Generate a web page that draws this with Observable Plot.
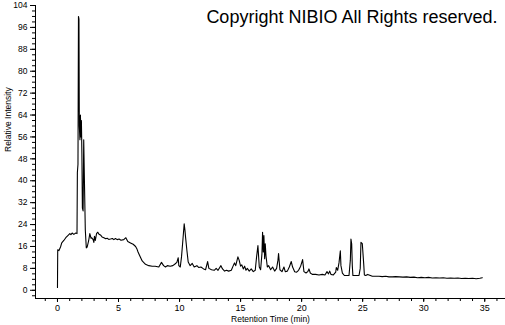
<!DOCTYPE html>
<html>
<head>
<meta charset="utf-8">
<script src="https://cdn.jsdelivr.net/npm/d3@7"></script>
<script src="https://cdn.jsdelivr.net/npm/@observablehq/plot@0.6"></script>
<style>
  html, body { margin: 0; padding: 0; background: #fff; }
  #chart { width: 505px; height: 325px; }
</style>
</head>
<body>
<div id="chart"></div>
<script>
const times = [0,0.02,0.12,0.25,0.35,0.52,0.68,0.85,1.01,1.10,1.20,1.34,1.50,1.60,1.63,1.68,1.72,1.76,1.79,1.84,1.88,1.92,1.96,2.00,2.04,2.10,2.15,2.20,2.28,2.36,2.43,2.55,2.65,2.75,2.81,2.92,2.98,3.03,3.10,3.20,3.30,3.40,3.52,3.65,3.80,3.95,4.07,4.20,4.34,4.50,4.62,4.75,4.89,5.05,5.20,5.43,5.60,5.76,5.98,6.20,6.40,6.50,6.60,6.72,6.94,7.21,7.48,7.76,8.0,8.30,8.52,8.69,8.85,9.0,9.23,9.45,9.60,9.78,9.89,9.94,10.06,10.16,10.27,10.38,10.44,10.49,10.60,10.71,10.87,11.04,11.20,11.42,11.58,11.75,11.97,12.13,12.30,12.40,12.62,12.84,13.0,13.15,13.39,13.52,13.69,13.85,14.02,14.24,14.40,14.50,14.60,14.78,14.88,15.0,15.10,15.22,15.33,15.44,15.55,15.71,15.87,16.04,16.20,16.31,16.42,16.53,16.64,16.75,16.80,16.86,16.91,16.97,17.02,17.08,17.19,17.30,17.46,17.62,17.79,17.95,18.06,18.11,18.22,18.39,18.55,18.66,18.83,18.99,19.15,19.26,19.43,19.59,19.75,19.92,20.08,20.19,20.36,20.50,20.60,20.71,20.87,21.15,21.42,21.69,21.91,22.08,22.20,22.30,22.40,22.60,22.79,22.84,22.95,23.06,23.17,23.22,23.34,23.50,23.72,23.88,23.99,24.04,24.10,24.15,24.20,24.43,24.70,24.80,24.86,24.97,25.08,25.14,25.25,25.41,25.63,25.79,26.05,26.34,26.6,26.89,27.15,27.43,27.7,28.0,28.3,28.6,28.9,29.2,29.5,29.8,30.1,30.4,30.7,31.0,31.3,31.6,31.9,32.2,32.5,32.8,33.1,33.4,33.7,34.0,34.3,34.6,34.8];
const intensity = [1.0,14.8,14.5,15.8,17.3,18.2,19.2,20.0,20.7,20.3,20.9,20.4,20.9,20.7,43,46,100,99,60,55,64,56,62,50,30,29,55,42,22,15.5,15.8,18,20.7,19.0,19.2,18.5,17.5,19.7,18.2,20.7,21.2,20.5,20.2,19.5,19.2,18.8,19.0,18.6,18.7,18.9,18.5,18.9,18.5,18.7,18.3,18.5,19.2,17.8,17.3,16.8,16.0,15.2,14.0,12.8,10.7,9.5,9.0,8.8,8.8,8.5,10.2,9.0,8.5,9.0,8.8,9.0,9.5,10.2,11.9,9.0,8.5,12.2,18.2,24.3,22,19.5,14.6,10.3,9.0,9.8,8.5,9.0,8.3,8.5,7.8,7.5,10.5,8.0,7.5,7.3,8.0,7.3,9.0,7.8,7.0,7.3,7.0,7.3,9.0,10.0,9.0,12.2,11.0,8.8,9.3,7.8,8.8,7.3,8.0,7.0,7.8,6.8,7.3,12.2,16.3,8.5,7.5,13.4,21.2,14,20.0,11.5,17.0,12.6,8.5,9.0,7.5,8.5,7.0,8.0,11.0,13.4,7.5,6.8,8.5,6.8,7.0,8.5,10.5,8.5,6.8,6.6,7.3,8.8,11.2,6.8,6.3,6.8,7.8,6.3,5.8,5.8,5.6,5.8,5.6,6.8,6.0,7.0,5.8,5.6,6.6,8.3,7.3,10.0,14.4,9.0,6.3,5.4,5.4,5.4,11.0,18.7,17.0,9.0,5.4,5.4,5.4,8.0,17.5,17.0,10.0,5.6,5.4,5.8,5.4,5.1,5.1,5.1,5.0,5.1,4.9,4.9,5.0,4.9,4.8,4.9,4.7,4.8,4.6,4.7,4.6,4.7,4.5,4.6,4.5,4.6,4.4,4.5,4.4,4.5,4.3,4.4,4.3,4.4,4.2,4.4,4.6];

const xMajorTicks = [0, 5, 10, 15, 20, 25, 30, 35];
const xMinorTicks = d3.range(-1, 37, 1);
const yMajorTicks = [0, 8, 16, 24, 32, 40, 48, 56, 64, 72, 80, 88, 96, 104];
const yMinorTicks = d3.range(-2, 105, 2);

const xTitle = "Retention Time (min)";
const yTitle = "Relative Intensity";
const copyright = "Copyright NIBIO All Rights reserved.";

const data = times.map((t, i) => ({t, v: intensity[i]}));
const font = "Liberation Sans, Arial, sans-serif";

const chart = Plot.plot({
  width: 505,
  height: 325,
  marginLeft: 35,
  marginRight: 0,
  marginTop: 5,
  marginBottom: 27,
  style: {fontFamily: font, background: "#fff", color: "#000"},
  x: {domain: [-1.8, 36.7], label: null},
  y: {domain: [-3, 104], label: null},
  marks: [
    Plot.axisX(xMinorTicks, {tickSize: 3, text: null, stroke: "#000", strokeWidth: 1, label: null}),
    Plot.axisX(xMajorTicks, {tickSize: 4, tickPadding: 2, fontSize: 9, stroke: "#000", fill: "#000", label: null}),
    Plot.axisY(yMinorTicks, {tickSize: 3, text: null, stroke: "#000", label: null}),
    Plot.axisY(yMajorTicks, {tickSize: 5, tickPadding: 3, fontSize: 8.5, stroke: "#000", fill: "#000", label: null}),
    Plot.ruleX([-1.8], {stroke: "#000"}),
    Plot.ruleY([-3], {stroke: "#000"}),
    Plot.line(data, {x: "t", y: "v", stroke: "#000", strokeWidth: 1.1}),
    Plot.text([xTitle], {frameAnchor: "bottom", dy: 23, fontSize: 8.5, fill: "#000"}),
    Plot.text([yTitle], {frameAnchor: "left", dx: -27, rotate: -90, fontSize: 8.5, fill: "#000"}),
    Plot.text([copyright], {frameAnchor: "top-right", dx: -8, dy: 5, fontSize: 18, fill: "#000", textAnchor: "end"})
  ]
});
document.getElementById("chart").appendChild(chart);
</script>
</body>
</html>
